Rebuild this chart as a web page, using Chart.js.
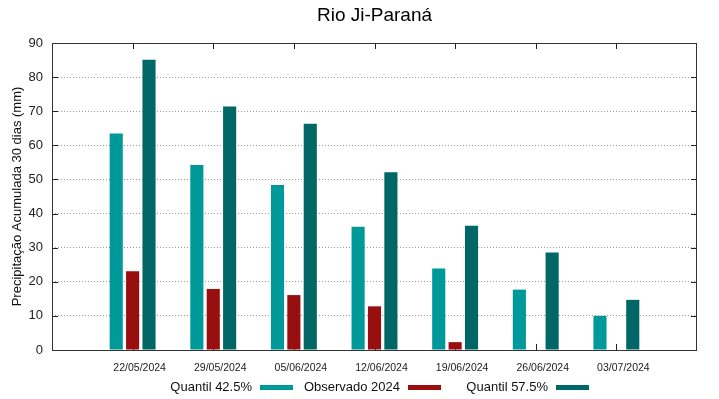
<!DOCTYPE html>
<html>
<head>
<meta charset="utf-8">
<script src="https://cdn.jsdelivr.net/npm/chart.js@4/dist/chart.umd.min.js"></script>
<style>
  html, body { margin: 0; padding: 0; background: #fff; }
  #wrap { width: 719px; height: 399px; }
</style>
</head>
<body>
<div id="wrap"><canvas id="chuva" width="719" height="399"></canvas></div>
<script>
// semanas (primeiro e ultimo vazios para deixar margem nas pontas do eixo)
const datas = ["", "22/05/2024", "29/05/2024", "05/06/2024", "12/06/2024", "19/06/2024", "26/06/2024", "03/07/2024", ""];

// valores (mm)
const quantil425 = [null, 63.5, 54.2, 48.4, 36.1, 23.9, 17.7, 10.0, null];
const observado2024 = [null, 23.1, 17.9, 16.1, 12.8, 2.3, null, null, null];
const quantil575 = [null, 85.1, 71.4, 66.3, 52.1, 36.4, 28.6, 14.7, null];

const yTicks = [0, 10, 20, 30, 40, 50, 60, 70, 80, 90];

const titulo = "Rio Ji-Paraná";
const fonte = "'Liberation Sans', Arial, sans-serif";

// ticks pra dentro da area, igual gnuplot
const ticksInternos = {
  id: "ticksInternos",
  beforeDatasetsDraw(chart) {
    const { ctx, chartArea, scales } = chart;
    ctx.save();
    ctx.strokeStyle = "#222";
    ctx.lineWidth = 1;
    ctx.beginPath();
    for (let i = 1; i < datas.length - 1; i++) {
      const x = Math.round(scales.x.getPixelForValue(i)) + 0.5;
      ctx.moveTo(x, chartArea.top);
      ctx.lineTo(x, chartArea.top + 6);
      ctx.moveTo(x, chartArea.bottom);
      ctx.lineTo(x, chartArea.bottom - 6);
    }
    yTicks.forEach((v) => {
      const y = Math.round(scales.y.getPixelForValue(v)) + 0.5;
      ctx.moveTo(chartArea.left, y);
      ctx.lineTo(chartArea.left + 6, y);
      ctx.moveTo(chartArea.right, y);
      ctx.lineTo(chartArea.right - 6, y);
    });
    ctx.stroke();
    ctx.restore();
  },
  afterDatasetsDraw(chart) {
    const { ctx, chartArea } = chart;
    ctx.save();
    ctx.strokeStyle = "#333";
    ctx.lineWidth = 1;
    ctx.strokeRect(chartArea.left + 0.5, chartArea.top + 0.5,
      chartArea.right - chartArea.left - 1, chartArea.bottom - chartArea.top);
    ctx.restore();
  }
};

// titulo centrado na area do grafico + legenda estilo gnuplot
const legendaBaixo = {
  id: "legendaBaixo",
  afterDraw(chart) {
    const { ctx, chartArea } = chart;
    ctx.save();
    ctx.fillStyle = "#000";
    ctx.font = "19px " + fonte;
    ctx.textAlign = "center";
    ctx.textBaseline = "middle";
    ctx.fillText(titulo, (chartArea.left + chartArea.right) / 2, 16);

    ctx.font = "13px " + fonte;
    ctx.textAlign = "right";
    chart.data.datasets.forEach((ds, i) => {
      const xAmostra = 260 + i * 148;
      ctx.fillStyle = "#111";
      ctx.fillText(ds.label, xAmostra - 8, 387);
      ctx.fillStyle = ds.backgroundColor;
      ctx.fillRect(xAmostra, 385, 33, 5);
    });
    ctx.restore();
  }
};

new Chart(document.getElementById("chuva"), {
  type: "bar",
  data: {
    labels: datas,
    datasets: [
      { label: "Quantil 42.5%", data: quantil425, backgroundColor: "#009999" },
      { label: "Observado 2024", data: observado2024, backgroundColor: "#990e0e" },
      { label: "Quantil 57.5%", data: quantil575, backgroundColor: "#006666" }
    ]
  },
  options: {
    responsive: false,
    animation: false,
    devicePixelRatio: 1,
    categoryPercentage: 0.61,
    barPercentage: 0.8,
    layout: { padding: { left: 0, right: 22, top: 43, bottom: 0 } },
    plugins: {
      legend: { display: false },
      tooltip: { enabled: false },
      title: { display: false }
    },
    scales: {
      x: {
        offset: false,
        grid: { display: false, drawTicks: false },
        border: { display: false },
        ticks: {
          color: "#222",
          font: { family: fonte, size: 10.5 },
          padding: 12,
          labelOffset: 7,
          maxRotation: 0,
          autoSkip: false
        },
        afterFit(scale) { scale.height = 49; }
      },
      y: {
        min: 0,
        max: 90,
        grid: {
          color: "#999",
          lineWidth: 1,
          drawTicks: false
        },
        border: { display: false, dash: [1, 2] },
        ticks: {
          stepSize: 10,
          color: "#222",
          font: { family: fonte, size: 13 },
          padding: 9
        },
        title: {
          display: true,
          text: "Precipitação Acumulada 30 dias (mm)",
          color: "#111",
          font: { family: fonte, size: 13 },
          padding: { top: 10, bottom: 0 }
        },
        afterFit(scale) { scale.width = 52; }
      }
    }
  },
  plugins: [ticksInternos, legendaBaixo]
});
</script>
</body>
</html>
